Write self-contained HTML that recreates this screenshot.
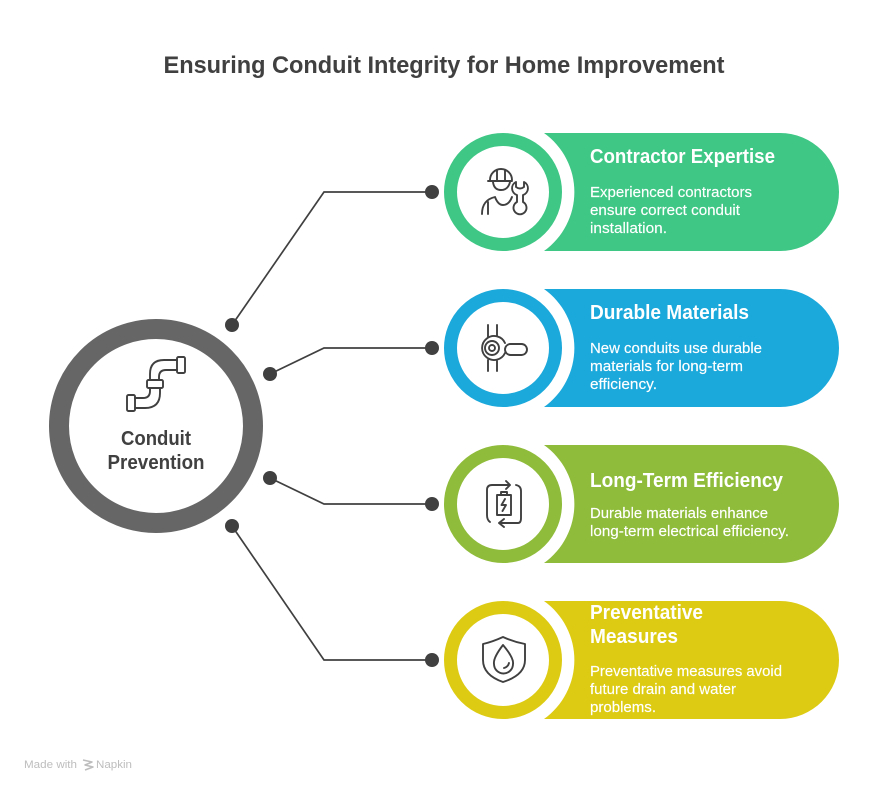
<!DOCTYPE html>
<html><head><meta charset="utf-8"><style>
html,body{margin:0;padding:0;background:#fff}
svg{display:block}
text{font-family:"Liberation Sans",sans-serif}
.t{font-weight:700;font-size:20px;fill:#fff}
.d{font-size:14.5px;fill:#fff;stroke:#fff;stroke-width:.15}
.i{fill:none;stroke:#404040;stroke-width:1.9;stroke-linecap:round;stroke-linejoin:round}
.c{fill:none;stroke:#404040;stroke-width:1.7}
</style></head><body>
<svg width="888" height="792" viewBox="0 0 888 792" xmlns="http://www.w3.org/2000/svg">
<rect width="888" height="792" fill="#fff"/>
<text x="444" y="73" text-anchor="middle" font-size="24" font-weight="700" fill="#404040" textLength="561" lengthAdjust="spacingAndGlyphs">Ensuring Conduit Integrity for Home Improvement</text>

<!-- connectors -->
<path class="c" d="M232 325L324 192H432M270 374L324 348H432M270 478L324 504H432M232 526L324 660H432"/>
<g fill="#404040">
<circle cx="232" cy="325" r="7"/><circle cx="270" cy="374" r="7"/><circle cx="270" cy="478" r="7"/><circle cx="232" cy="526" r="7"/>
<circle cx="432" cy="192" r="7"/><circle cx="432" cy="348" r="7"/><circle cx="432" cy="504" r="7"/><circle cx="432" cy="660" r="7"/>
</g>

<!-- center -->
<circle cx="156" cy="426" r="97" fill="#fff" stroke="#666666" stroke-width="20"/>
<g class="i">
<rect x="177" y="357" width="8" height="16" rx="1.5"/>
<rect x="127" y="395" width="8" height="16" rx="1.5"/>
<rect x="147" y="380" width="16" height="8" rx="1.5"/>
<path d="M177 360H164Q150 360 150 374V380M177 370H166Q159 370 159 377V380"/>
<path d="M150 388V391Q150 398 143 398H135M160 388V393Q160 408 145 408H135"/>
</g>
<text x="156" y="445" text-anchor="middle" font-size="20" font-weight="700" fill="#404040" textLength="70" lengthAdjust="spacingAndGlyphs">Conduit</text>
<text x="156" y="469" text-anchor="middle" font-size="20" font-weight="700" fill="#404040" textLength="97" lengthAdjust="spacingAndGlyphs">Prevention</text>

<!-- row 1 -->
<path d="M544 133H780a59 59 0 0 1 0 118H544A72.5 72.5 0 0 0 544 133Z" fill="#3EC785"/>
<circle cx="503" cy="192" r="52.5" fill="#fff" stroke="#3EC785" stroke-width="13"/>
<g class="i">
<path d="M490 180a11 11 0 0 1 22 0M488 181H512M497 170V180M505 170V180"/>
<path d="M493 182Q494 190 501 190Q508 190 510 182"/>
<path d="M482 214Q482 200 495 197Q498 205 503 205Q509 205 512 197"/>
<path d="M488 202V214"/>
<path d="M516 182V187Q520 190 524 187V182A7 7 0 0 1 523 195V202A6.5 6.5 0 1 1 517 202V195A7 7 0 0 1 516 182Z"/>
</g>
<text class="t" x="590" y="163" textLength="185" lengthAdjust="spacingAndGlyphs">Contractor Expertise</text>
<text class="d" x="590" y="197" textLength="162" lengthAdjust="spacingAndGlyphs">Experienced contractors</text>
<text class="d" x="590" y="215" textLength="150" lengthAdjust="spacingAndGlyphs">ensure correct conduit</text>
<text class="d" x="590" y="233" textLength="77" lengthAdjust="spacingAndGlyphs">installation.</text>

<!-- row 2 -->
<path d="M544 289H780a59 59 0 0 1 0 118H544A72.5 72.5 0 0 0 544 289Z" fill="#1BA8DB"/>
<circle cx="503" cy="348" r="52.5" fill="#fff" stroke="#1BA8DB" stroke-width="13"/>
<g class="i">
<path d="M488 325V337M497 325V336M488 360V371M497 361V371"/>
<circle cx="492" cy="348" r="3"/><circle cx="492" cy="348" r="7"/>
<path d="M505 343A12 12 0 1 0 505 353"/>
<rect x="505" y="344" width="22" height="11" rx="5.5"/>
</g>
<text class="t" x="590" y="319" textLength="159" lengthAdjust="spacingAndGlyphs">Durable Materials</text>
<text class="d" x="590" y="353" textLength="172" lengthAdjust="spacingAndGlyphs">New conduits use durable</text>
<text class="d" x="590" y="371" textLength="153" lengthAdjust="spacingAndGlyphs">materials for long-term</text>
<text class="d" x="590" y="389" textLength="67" lengthAdjust="spacingAndGlyphs">efficiency.</text>

<!-- row 3 -->
<path d="M544 445H780a59 59 0 0 1 0 118H544A72.5 72.5 0 0 0 544 445Z" fill="#8FBC3A"/>
<circle cx="503" cy="504" r="52.5" fill="#fff" stroke="#8FBC3A" stroke-width="13"/>
<g class="i">
<path d="M510 485H492Q487 485 487 490V515Q487 520 490 522M506 481L510 485L506 489"/>
<path d="M500 523H518Q521 523 521 518V491Q521 486 516 485M504 519L499 523L504 527"/>
<path d="M501 495V492H507V495M497 495H511V515H497Z"/>
<path d="M505 499L501.5 505H506L502.5 511"/>
</g>
<text class="t" x="590" y="487" textLength="193" lengthAdjust="spacingAndGlyphs">Long-Term Efficiency</text>
<text class="d" x="590" y="518" textLength="178" lengthAdjust="spacingAndGlyphs">Durable materials enhance</text>
<text class="d" x="590" y="536" textLength="199" lengthAdjust="spacingAndGlyphs">long-term electrical efficiency.</text>

<!-- row 4 -->
<path d="M544 601H780a59 59 0 0 1 0 118H544A72.5 72.5 0 0 0 544 601Z" fill="#DDCB13"/>
<circle cx="503" cy="660" r="52.5" fill="#fff" stroke="#DDCB13" stroke-width="13"/>
<g class="i">
<path d="M483 644Q492 642 503 637Q514 642 525 644V660Q525 675 503 682Q483 675 483 660Z"/>
<path d="M503 645Q493 658 494 664A9 9 0 0 0 513 664Q514 658 503 645Z"/>
<path d="M504 668Q508 667 509 663"/>
</g>
<text class="t" x="590" y="619" textLength="113" lengthAdjust="spacingAndGlyphs">Preventative</text>
<text class="t" x="590" y="643" textLength="88" lengthAdjust="spacingAndGlyphs">Measures</text>
<text class="d" x="590" y="676" textLength="192" lengthAdjust="spacingAndGlyphs">Preventative measures avoid</text>
<text class="d" x="590" y="694" textLength="146" lengthAdjust="spacingAndGlyphs">future drain and water</text>
<text class="d" x="590" y="712" textLength="66" lengthAdjust="spacingAndGlyphs">problems.</text>

<!-- footer -->
<text x="24" y="768" font-size="11" fill="#bdbdbd" textLength="53" lengthAdjust="spacingAndGlyphs">Made with</text>
<path d="M83 760L92 762L85 765L93 767L85 770" fill="none" stroke="#bdbdbd" stroke-width="1.5" stroke-linejoin="round"/>
<text x="96" y="768" font-size="11" fill="#bdbdbd" textLength="36" lengthAdjust="spacingAndGlyphs">Napkin</text>
</svg>
</body></html>
